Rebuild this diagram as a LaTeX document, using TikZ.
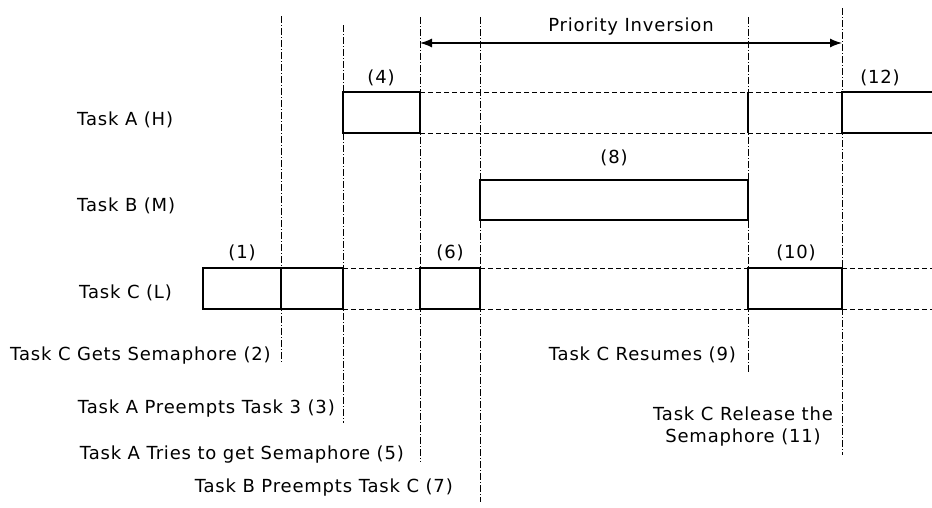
\documentclass[tikz,border=0pt]{standalone}
\usepackage{fontspec}
\setmainfont{DejaVu Sans}[LetterSpace=4.5]
\usetikzlibrary{arrows.meta}
\begin{document}
\begin{tikzpicture}[x=1pt,y=-1pt,
  lbl/.style={inner sep=0pt,font=\fontsize{18}{21.5}\selectfont},
  taskbox/.style={draw,line width=1.3pt,inner sep=0pt},
  guide/.style={line width=0.9pt,dash pattern=on 7pt off 2pt on 1pt off 2pt},
  track/.style={line width=1pt,dash pattern=on 5pt off 3pt},
  solidedge/.style={line width=1.3pt}]
\useasboundingbox (0,0) rectangle (932,507);
% vertical guide lines
\foreach \n/\x/\t/\b in {g1/281/16/362, g2/343/25/423, g3/420/17/462, g4/480/17/502, g5/748/17/373, g6/842/8/455}{
  \coordinate (\n t) at (\x,\t);
  \coordinate (\n b) at (\x,\b);
  \draw[guide] (\n t) -- (\n b);
}
% dashed tracks
\coordinate (atl) at (420,92); \coordinate (atr) at (842,92);
\coordinate (abl) at (420,133); \coordinate (abr) at (842,133);
\draw[track] (atl) -- (atr);
\draw[track] (abl) -- (abr);
\foreach \l/\r in {343/420, 480/748, 842/932}{
  \coordinate (ctl\l) at (\l,268); \coordinate (ctr\l) at (\r,268);
  \coordinate (cbl\l) at (\l,309); \coordinate (cbr\l) at (\r,309);
  \draw[track] (ctl\l) -- (ctr\l);
  \draw[track] (cbl\l) -- (cbr\l);
}
% task boxes
\node[taskbox,minimum width=77pt,minimum height=41pt] (a1) at (381.5,112.5) {};
\node[taskbox,minimum width=268pt,minimum height=40pt] (b1) at (614,200) {};
\node[taskbox,minimum width=78pt,minimum height=41pt] (c1) at (242,288.5) {};
\node[taskbox,minimum width=62pt,minimum height=41pt] (c2) at (312,288.5) {};
\node[taskbox,minimum width=60pt,minimum height=41pt] (c3) at (450,288.5) {};
\node[taskbox,minimum width=94pt,minimum height=41pt] (c4) at (795,288.5) {};
% open box of task A at right
\coordinate (a2tr) at (933,92); \coordinate (a2tl) at (842,92);
\coordinate (a2bl) at (842,133); \coordinate (a2br) at (933,133);
\draw[solidedge] (a2tr) -- (a2tl) -- (a2bl) -- (a2br);
% solid piece at g5 in task A row
\coordinate (a5t) at (748,92); \coordinate (a5b) at (748,133);
\draw[solidedge] (a5t) -- (a5b);
% priority inversion arrow
\coordinate (pil) at (420,43); \coordinate (pir) at (842,43);
\draw[line width=1.3pt,{Latex[length=12pt,width=9pt]}-{Latex[length=12pt,width=9pt]}] (pil) -- (pir);
\node[lbl] (pi) at (631,27) {Priority Inversion};
% box labels
\node[lbl] (n1) at (242,253) {(1)};
\node[lbl] (n4) at (381,78) {(4)};
\node[lbl] (n6) at (450,253) {(6)};
\node[lbl] (n8) at (614,158) {(8)};
\node[lbl] (n10) at (796,253) {(10)};
\node[lbl] (n12) at (880,78) {(12)};
% task names
\node[lbl,anchor=west] (ta) at (77,120) {Task A (H)};
\node[lbl,anchor=west] (tb) at (77,206) {Task B (M)};
\node[lbl,anchor=west] (tc) at (79,293) {Task C (L)};
% event labels
\node[lbl,anchor=west] (e2) at (10,356) {Task C Gets Semaphore (2)};
\node[lbl,anchor=east] (e3) at (335,409) {Task A Preempts Task 3 (3)};
\node[lbl,anchor=east] (e5) at (404,455) {Task A Tries to get Semaphore (5)};
\node[lbl,anchor=east] (e7) at (453,488) {Task B Preempts Task C (7)};
\node[lbl,anchor=east] (e9) at (736,355) {Task C Resumes (9)};
\node[lbl,align=center] (e11) at (743,426.5) {Task C Release the\\Semaphore (11)};
\end{tikzpicture}
\end{document}
